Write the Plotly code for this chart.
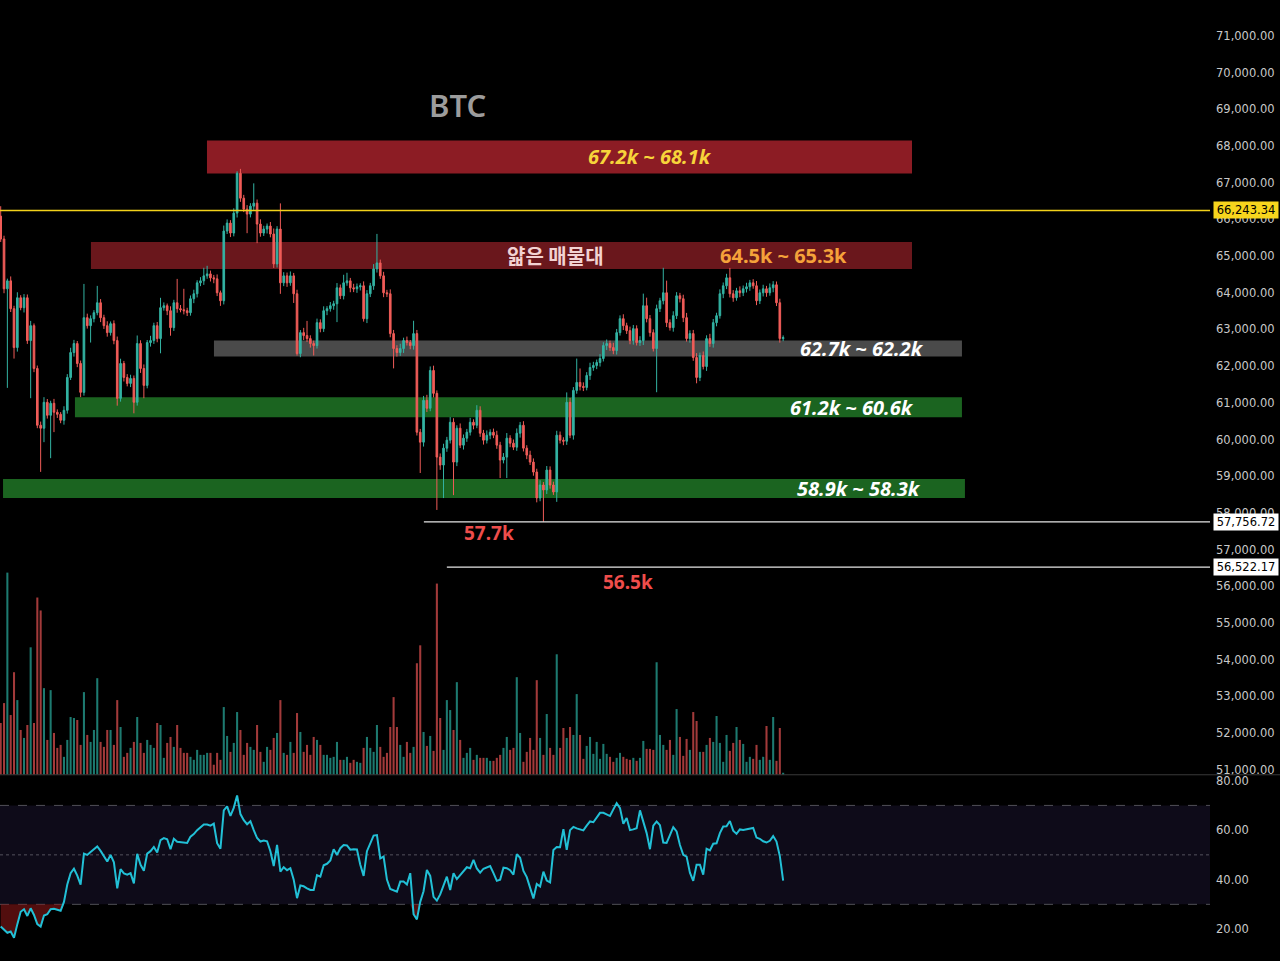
import plotly.graph_objects as go

# ---------------- data ----------------
first_open = 66088
closes = [
    65464, 64107, 64324, 63565, 62506, 63863, 63592, 63863, 62696, 63103, 61936, 60389,
    60308, 61014, 60661, 60987, 60742, 60688, 60525, 60796, 61692, 62370, 62615, 62072,
    61285, 63320, 63103, 63293, 63456, 63727, 63320, 63103, 62913, 63157, 62696, 61122,
    62072, 61692, 61529, 61665, 61014, 62615, 61936, 61475, 62642, 62696, 63103, 62750,
    63592, 63646, 63510, 63049, 63727, 63565, 63537, 63510, 63456, 63836, 63972, 64270,
    64324, 64460, 64514, 64406, 64379, 63999, 63782, 65681, 65898, 65627, 66170, 67255,
    66577, 66278, 66143, 66360, 66441, 65871, 65627, 65735, 65817, 65600, 64786, 65735,
    64270, 64460, 64270, 64460, 63972, 62343, 62913, 62832, 62750, 62615, 62560, 63185,
    63022, 63510, 63565, 63646, 63700, 64134, 63917, 64270, 64324, 64134, 64107, 64162,
    64189, 63293, 63972, 64189, 64650, 64813, 64460, 63999, 63972, 62886, 62479, 62370,
    62479, 62696, 62642, 62560, 62886, 60199, 59928, 61068, 60851, 61882, 61258, 59521,
    59304, 59765, 59982, 60471, 59385, 60308, 59847, 60037, 60199, 60471, 60389, 60796,
    60172, 59982, 60118, 60199, 60118, 59847, 59440, 59521, 60037, 59901, 59792, 60172,
    60389, 59765, 59575, 59385, 59114, 58408, 58761, 58626, 59168, 58761, 58571, 60118,
    59982, 59955, 61014, 60118, 61339, 61556, 61448, 61420, 61746, 61963, 62018, 62099,
    62208, 62560, 62615, 62506, 62425, 62913, 63293, 63103, 62967, 62696, 63022, 62642,
    62696, 63646, 63293, 62913, 62479, 63565, 63782, 63999, 63185, 63049, 63375, 63917,
    63836, 63320, 62750, 62886, 62235, 61692, 62289, 61990, 62750, 62615, 63185, 63375,
    63972, 64189, 64406, 63972, 63863, 64053, 63999, 64107, 64162, 64270, 64189, 63782,
    63999, 64107, 63999, 64134, 64216, 63727, 62750, 62777,
]
wick_up = [
    270, 90, 60, 120, 80, 150, 70, 100, 90, 130, 60, 80,
    100, 140, 90, 70, 120, 80, 60, 110, 90, 130, 100, 70,
    80, 920, 110, 90, 70, 460, 100, 80, 120, 60, 90, 110,
    130, 70, 90, 100, 80, 220, 90, 110, 70, 130, 80, 100,
    270, 90, 60, 120, 80, 650, 100, 570, 80, 90, 110, 70,
    100, 220, 220, 90, 80, 120, 60, 150, 100, 80, 130, 55,
    120, 90, 110, 80, 540, 100, 130, 90, 70, 110, 150, 80,
    700, 100, 90, 120, 80, 110, 70, 130, 400, 90, 80, 110,
    90, 120, 70, 100, 80, 130, 90, 220, 220, 80, 110, 90,
    70, 120, 100, 80, 130, 790, 90, 110, 80, 120, 100, 90,
    130, 80, 110, 70, 350, 100, 90, 120, 150, 110, 130, 80,
    100, 120, 90, 140, 110, 80, 130, 100, 90, 120, 80, 140,
    110, 90, 130, 80, 100, 120, 90, 110, 140, 80, 100, 130,
    90, 110, 80, 120, 100, 90, 130, 80, 110, 100, 90, 120,
    100, 80, 270, 120, 90, 650, 380, 110, 90, 130, 100, 80,
    120, 90, 110, 80, 130, 100, 90, 120, 80, 110, 100, 90,
    120, 330, 220, 100, 90, 110, 80, 680, 330, 90, 120, 100,
    80, 110, 130, 90, 100, 120, 80, 110, 90, 130, 100, 80,
    120, 90, 110, 270, 100, 80, 120, 90, 110, 80, 100, 130,
    90, 110, 80, 120, 100, 90, 110, 60,
]
wick_dn = [
    80, 120, 2700, 90, 300, 110, 70, 130, 90, 1570, 100, 80,
    1190, 380, 90, 1170, 540, 100, 80, 120, 90, 70, 110, 100,
    130, 90, 80, 460, 100, 70, 120, 90, 110, 80, 100, 200,
    90, 110, 80, 100, 300, 90, 120, 350, 80, 110, 90, 100,
    400, 80, 120, 220, 90, 110, 70, 100, 90, 80, 120, 100,
    90, 110, 80, 100, 120, 90, 140, 100, 80, 110, 90, 120,
    100, 80, 520, 90, 110, 520, 100, 80, 120, 90, 110, 100,
    300, 90, 110, 80, 250, 55, 100, 120, 90, 110, 270, 80,
    100, 90, 120, 80, 110, 500, 90, 100, 80, 120, 90, 110,
    100, 80, 120, 90, 110, 100, 80, 120, 90, 100, 540, 110,
    90, 120, 80, 100, 110, 90, 840, 120, 100, 80, 110, 1440,
    130, 900, 100, 90, 900, 110, 80, 120, 100, 90, 110, 80,
    100, 120, 90, 110, 80, 100, 490, 90, 570, 110, 80, 100,
    120, 90, 110, 80, 100, 120, 90, 869, 110, 100, 80, 270,
    90, 110, 100, 80, 120, 90, 110, 100, 80, 120, 90, 100,
    110, 80, 120, 90, 100, 110, 80, 120, 90, 100, 110, 80,
    90, 120, 100, 110, 80, 1190, 90, 100, 120, 80, 110, 90,
    100, 120, 80, 110, 90, 160, 100, 80, 120, 90, 110, 100,
    80, 120, 90, 100, 110, 80, 120, 90, 100, 110, 80, 120,
    90, 100, 110, 80, 120, 90, 110, 70,
]
volume_k = [
    52, 72, 203, 60, 103, 75, 45, 37, 50, 128, 52, 178,
    165, 87, 35, 85, 42, 27, 30, 18, 35, 58, 57, 55,
    30, 83, 40, 33, 45, 97, 33, 28, 45, 45, 30, 75,
    48, 18, 22, 27, 33, 58, 32, 22, 35, 30, 27, 52,
    50, 17, 32, 38, 28, 50, 27, 22, 22, 18, 15, 25,
    20, 20, 22, 22, 10, 22, 15, 68, 39, 23, 32, 63,
    45, 20, 32, 28, 25, 50, 23, 13, 28, 25, 37, 42,
    75, 22, 20, 33, 22, 62, 43, 23, 30, 20, 38, 35,
    30, 20, 20, 17, 18, 33, 15, 15, 18, 12, 15, 13,
    12, 27, 38, 27, 23, 50, 28, 18, 22, 48, 78, 48,
    30, 18, 33, 22, 28, 112, 130, 43, 29, 39, 24, 192,
    57, 25, 75, 65, 45, 93, 35, 17, 22, 27, 15, 20,
    17, 17, 17, 14, 14, 17, 20, 27, 38, 25, 27, 98,
    42, 13, 23, 37, 25, 95, 37, 20, 61, 27, 20, 121,
    27, 47, 37, 48, 40, 81, 40, 16, 29, 38, 21, 33,
    16, 31, 21, 18, 13, 17, 22, 18, 16, 15, 17, 14,
    17, 34, 26, 26, 25, 113, 40, 30, 25, 35, 20, 66,
    38, 19, 36, 25, 63, 54, 23, 23, 30, 37, 33, 59,
    32, 13, 40, 24, 32, 48, 35, 31, 13, 18, 16, 30,
    15, 18, 49, 15, 58, 14, 47, 2,
]
rsi = [
    21, 19.6, 18.5, 19, 16.5, 22, 27, 28, 25.3, 28.4, 25.7, 22,
    21, 25.5, 26, 28, 28.2, 27.8, 27.4, 31, 38, 42.6, 44.4, 41.6,
    38, 50.5, 50, 51.2, 52.5, 53.4, 51.6, 49.5, 47.3, 50, 47, 36.5,
    44.2, 42.5, 42, 42.6, 38.5, 50.4, 46, 43.6, 50.5, 51.5, 53.2, 51,
    56, 56.8, 56.3, 52.3, 56.5, 55.3, 55.2, 55, 54.8, 57.4, 58.4, 60,
    61.2, 62.3, 62.3, 61.8, 62.6, 54.7, 52.5, 68, 69.6, 65.8, 69, 74,
    66.5, 64, 62.4, 63.6, 60, 56.8, 55.4, 55.8, 55.5, 51.5, 45.5, 54,
    43.2, 45, 43.8, 44.6, 40, 32.5, 37.6, 37.3, 36.5, 35.8, 35.8, 41.8,
    41.2, 45.8, 46.4, 47.7, 52.3, 50, 52.7, 54, 53.8, 52.1, 52.3, 52.2,
    46, 41.5, 51.5, 55, 57.8, 58, 48.6, 49.3, 40, 36.2, 35.5, 35.1,
    39.2, 39.2, 38, 42.6, 26, 23.9, 31, 35.3, 43.9, 41.5, 33, 31.5,
    34, 38, 41.2, 35.8, 42.6, 40.2, 41.8, 43.4, 45, 44.6, 48, 44.5,
    42.8, 44.4, 45, 45.5, 42.6, 39.5, 40, 44.8, 44.6, 43.8, 42, 50.3,
    48.8, 43.5, 41, 37, 32.4, 38.2, 37.2, 43.2, 39.6, 38.9, 52, 53.2,
    53.1, 60.4, 52, 60, 61.3, 60.7, 60.3, 59.9, 61.8, 63.5, 63.2, 65.3,
    67, 67, 66.3, 65.7, 68.4, 70.9, 68.9, 62.6, 64.9, 60, 60.3, 60.8,
    68, 63.5, 58.8, 52.3, 61.8, 63.5, 62, 55, 54.8, 58, 61.2, 59.5,
    54, 50, 49.3, 42.8, 39.5, 46, 46, 42, 52.5, 51.8, 54.5, 54.7,
    58.8, 61.5, 61.6, 63.7, 59.8, 58.5, 60.3, 60.1, 60.3, 60.4, 60.9, 57,
    56.5, 55.5, 55, 55.7, 57.6, 55.4, 49.5, 39.6,
]

# zones: (low, high, x_start, x_end, label, label_x, colour, font colour, italic)
zones = [
    (67250, 68150, 61.95, 273.7, "67.2k ~ 68.1k", 195.0, "#8c1c24", "#f7d43a", True),
    (64650, 65383, 27.1, 273.7, "64.5k ~ 65.3k", 235.0, "#6a171c", "#f5a23a", False),
    (62262, 62696, 64.05, 288.7, "62.7k ~ 62.2k", 258.6, "#4a4a4a", "#ffffff", True),
    (60606, 61149, 22.3, 288.7, "61.2k ~ 60.6k", 255.6, "#1b6420", "#ffffff", True),
    (58408, 58924, 0.7, 289.6, "58.9k ~ 58.3k", 257.7, "#1b6420", "#ffffff", True),
]
zone_note = ("얇은 매물대", 166.5)
current_level = 66243.34
support_levels = [(57756.72, 127.1, "57.7k", 146.6, 57459), (56522.17, 134.0, "56.5k", 188.4, 56129)]
price_ticks = list(range(51000, 72001, 1000))
rsi_ticks = [20, 40, 60, 80]

X_RANGE = [-0.21, 363.2]
PRICE_RANGE = [50864, 71923]
VOL_RANGE = [0, 776]
RSI_RANGE = [7.9, 82.0]

UP, DN = "#33b3a3", "#f05c58"
VUP, VDN = "#1d7a70", "#a23a3a"

n = len(closes)
idx = list(range(n))
opens = [first_open] + closes[:-1]
highs = [max(o, c) + u for o, c, u in zip(opens, closes, wick_up)]
lows = [min(o, c) - d for o, c, d in zip(opens, closes, wick_dn)]
vcol = [VUP if c >= o else VDN for o, c in zip(opens, closes)]

fig = go.Figure()
fig.add_trace(go.Bar(x=idx, y=volume_k, marker=dict(color=vcol, line=dict(width=0)),
                     xaxis="x", yaxis="y2", hoverinfo="skip"))
fig.add_trace(go.Candlestick(
    x=idx, open=opens, high=highs, low=lows, close=closes,
    increasing=dict(line=dict(color=UP, width=1), fillcolor=UP),
    decreasing=dict(line=dict(color=DN, width=1), fillcolor=DN),
    xaxis="x", yaxis="y", whiskerwidth=0, hoverinfo="skip"))

# RSI
fig.add_trace(go.Scatter(x=idx, y=[30] * n, mode="lines", line=dict(width=0, color="rgba(0,0,0,0)"),
                         xaxis="x2", yaxis="y3", hoverinfo="skip"))
fig.add_trace(go.Scatter(x=idx, y=[min(r, 30) for r in rsi], mode="lines", line=dict(width=0, color="rgba(0,0,0,0)"),
                         fill="tonexty", fillcolor="rgba(150,25,25,0.55)",
                         xaxis="x2", yaxis="y3", hoverinfo="skip"))
fig.add_trace(go.Scatter(x=idx, y=rsi, mode="lines", line=dict(color="#22c0d6", width=2),
                         xaxis="x2", yaxis="y3", hoverinfo="skip"))

shapes = []
annotations = []
for lo, hi, xs, xe, label, lx, col, fcol, ital in zones:
    shapes.append(dict(type="rect", xref="x", yref="y", x0=xs, x1=xe, y0=lo, y1=hi,
                       fillcolor=col, line=dict(width=0), layer="below"))
    annotations.append(dict(x=lx, y=(lo + hi) / 2, xref="x", yref="y", text=label, showarrow=False,
                            font=dict(family="Noto Sans", size=20, color=fcol, weight="bold",
                                      style="italic" if ital else "normal")))
annotations.append(dict(x=zone_note[1], y=(64650 + 65383) / 2, xref="x", yref="y", text=zone_note[0],
                        showarrow=False, font=dict(family="Noto Sans CJK KR", size=20, color="#f2d2d2", weight="bold")))

box_font = dict(family="DejaVu Sans", size=11.5, color="#000000")
# current price line
shapes.append(dict(type="line", xref="x domain", yref="y", x0=0, x1=1, y0=current_level, y1=current_level,
                   line=dict(color="#f2d21b", width=1.5)))
annotations.append(dict(x=1, y=current_level, xref="paper", yref="y", xanchor="left", xshift=3,
                        text=f"{current_level:,.2f}", showarrow=False, bgcolor="#f7d51d", width=62,
                        font=box_font, borderpad=1))
for lvl, xs, lab, lx, ly in support_levels:
    shapes.append(dict(type="line", xref="x", yref="y", x0=xs, x1=X_RANGE[1], y0=lvl, y1=lvl,
                       line=dict(color="#e6e6e6", width=1.3)))
    annotations.append(dict(x=1, y=lvl, xref="paper", yref="y", xanchor="left", xshift=3,
                            text=f"{lvl:,.2f}", showarrow=False, bgcolor="#ffffff", width=62,
                            font=box_font, borderpad=1))
    annotations.append(dict(x=lx, y=ly, xref="x", yref="y", text=lab, showarrow=False,
                            font=dict(family="Noto Sans", size=19, color="#ef4d4b", weight="bold")))

annotations.append(dict(x=137.3, y=69127, xref="x", yref="y", text="BTC", showarrow=False,
                        font=dict(family="Noto Sans", size=31, color="#9c9c9c", weight=600)))

# RSI band and levels
shapes.append(dict(type="rect", xref="x2 domain", yref="y3", x0=0, x1=1, y0=30, y1=70,
                   fillcolor="#0e0b19", line=dict(width=0), layer="below"))
for lvl, dash in [(70, "dash"), (50, "dot"), (30, "dash")]:
    shapes.append(dict(type="line", xref="x2 domain", yref="y3", x0=0, x1=1, y0=lvl, y1=lvl,
                       line=dict(color="rgba(140,140,150,0.55)", width=1, dash=dash), layer="below"))
# pane separator
shapes.append(dict(type="line", xref="paper", yref="paper", x0=0, x1=1.06, y0=0.1925, y1=0.1925,
                   line=dict(color="#3a3a3a", width=1)))

axis_font = dict(family="DejaVu Sans", size=11.5, color="#c8c8c8")
fig.update_layout(
    width=1280, height=961,
    margin=dict(l=0, r=70, t=0, b=0),
    paper_bgcolor="#000000", plot_bgcolor="#000000",
    showlegend=False, bargap=0.38,
    xaxis=dict(domain=[0, 1], range=X_RANGE, visible=False, anchor="y",
               rangeslider=dict(visible=False)),
    xaxis2=dict(domain=[0, 1], range=X_RANGE, visible=False, anchor="y3", matches="x"),
    yaxis=dict(domain=[0.1925, 1], range=PRICE_RANGE, side="right", anchor="x",
               tickvals=price_ticks, ticktext=[f"{v:,.2f}" for v in price_ticks],
               showgrid=False, zeroline=False, showline=False, ticks="", tickfont=axis_font,
               ticklabelstandoff=5),
    yaxis2=dict(range=VOL_RANGE, overlaying="y", visible=False, anchor="x"),
    yaxis3=dict(domain=[0, 0.1915], range=RSI_RANGE, side="right", anchor="x2",
                tickvals=rsi_ticks, ticktext=[f"{v:.2f}" for v in rsi_ticks],
                showgrid=False, zeroline=False, showline=False, ticks="", tickfont=axis_font,
                ticklabelstandoff=5),
    shapes=shapes, annotations=annotations,
)

fig.write_html("out.html")
